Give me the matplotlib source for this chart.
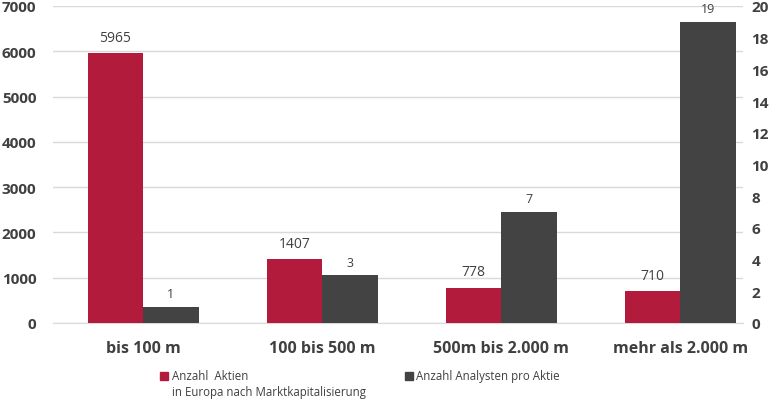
import matplotlib
matplotlib.use("Agg")
import matplotlib.pyplot as plt
from matplotlib.patches import Rectangle

categories = ["bis 100 m", "100 bis 500 m", "500m bis 2.000 m", "mehr als 2.000 m"]
aktien = [5965, 1407, 778, 710]
analysten = [1, 3, 7, 19]
left_ticks = [0, 1000, 2000, 3000, 4000, 5000, 6000, 7000]
right_ticks = [0, 2, 4, 6, 8, 10, 12, 14, 16, 18, 20]
legend_labels = ["Anzahl  Aktien", "in Europa nach Marktkapitalisierung", "Anzahl Analysten pro Aktie"]

RED = "#B31B3D"
DARK = "#434343"
TXT = "#404040"
plt.rcParams['font.family'] = ['Open Sans', 'DejaVu Sans']

fig = plt.figure(figsize=(7.71, 4.02), dpi=100)
ax = fig.add_axes([53/771, 1-324/402, (743-53)/771, (324-7)/402])
ax2 = ax.twinx()

w = 0.31
x = list(range(len(categories)))
b1 = ax.bar([i - w/2 for i in x], aktien, width=w, color=RED, zorder=3)
b2 = ax2.bar([i + w/2 for i in x], analysten, width=w, color=DARK, zorder=3)

ax.set_ylim(0, 7000)
ax2.set_ylim(0, 20)
ax.set_xlim(-0.503, 3.35)
ax.set_yticks(left_ticks)
ax2.set_yticks(right_ticks)
ax.yaxis.grid(True, color="#D9D9D9", linewidth=1, zorder=0)
ax.set_axisbelow(True)

for a in (ax, ax2):
    for s in a.spines.values():
        s.set_visible(False)
    a.tick_params(length=0)
ax.spines['bottom'].set_visible(True)
ax.spines['bottom'].set_color("#D9D9D9")

for lab in ax.get_yticklabels() + ax2.get_yticklabels():
    lab.set_fontweight('bold'); lab.set_color(TXT); lab.set_fontsize(11)
ax.tick_params(axis='y', pad=12)
ax2.tick_params(axis='y', pad=6)

ax.set_xticks(x)
ax.set_xticklabels(categories, fontsize=11.5, fontweight='bold', color=TXT)
ax.tick_params(axis='x', pad=12)

for r, v in zip(b1, aktien):
    ax.annotate(str(v), (r.get_x()+r.get_width()/2, r.get_height()), xytext=(0, 6),
                textcoords='offset points', ha='center', va='bottom', fontsize=10, color=TXT)
for r, v in zip(b2, analysten):
    ax2.annotate(str(v), (r.get_x()+r.get_width()/2, r.get_height()), xytext=(0, 5),
                 textcoords='offset points', ha='center', va='bottom', fontsize=9, color=TXT)

fig.patches.append(Rectangle((160/771, 1-381/402), 8/771, 8/402,
                   transform=fig.transFigure, color=RED))
fig.text(172/771, 1-377/402, legend_labels[0], fontsize=8.3, color=TXT, va='center', ha='left')
fig.text(172/771, 1-393/402, legend_labels[1], fontsize=8.3, color=TXT, va='center', ha='left')
fig.patches.append(Rectangle((405/771, 1-381/402), 8/771, 8/402,
                   transform=fig.transFigure, color=DARK))
fig.text(416/771, 1-377/402, legend_labels[2], fontsize=8.3, color=TXT, va='center', ha='left')

fig.savefig("out.png", dpi=100)
